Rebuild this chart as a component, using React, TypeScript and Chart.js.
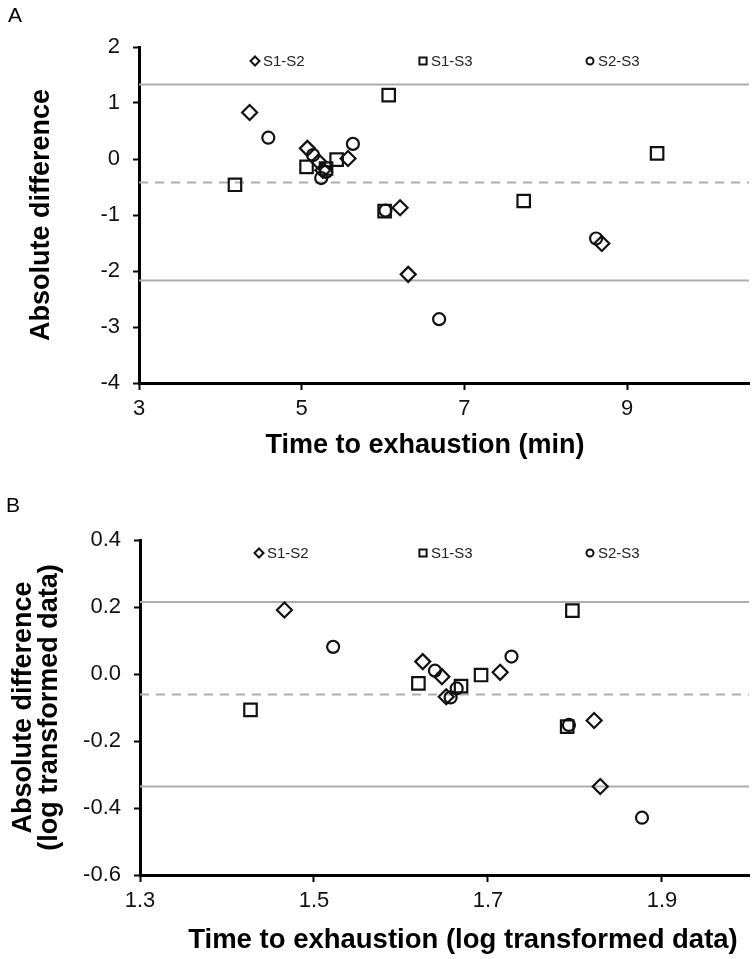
import React, { useEffect, useRef } from 'react';
import { Chart, registerables } from 'chart.js';
Chart.register(...registerables);

const FONT = '"Liberation Sans", Arial, Helvetica, sans-serif';
const seriesNames = ['S1-S2', 'S1-S3', 'S2-S3'];

// ---------- Panel A (minutes) ----------
const aX_S1S2 = [4.36, 5.07, 5.21, 5.26, 5.57, 6.21, 6.31, 8.69];
const aY_S1S2 = [0.83, 0.19, -0.05, -0.2, 0.01, -0.87, -2.06, -1.51];
const aX_S1S3 = [4.18, 5.06, 5.3, 5.43, 6.02, 6.07, 7.73, 9.37];
const aY_S1S3 = [-0.46, -0.14, -0.17, -0.01, -0.93, 1.14, -0.75, 0.1];
const aX_S2S3 = [4.59, 5.14, 5.24, 5.3, 5.63, 6.03, 6.69, 8.62];
const aY_S2S3 = [0.38, 0.07, -0.34, -0.23, 0.27, -0.92, -2.86, -1.42];
const aLimits = [1.33, -0.42, -2.17]; // upper LoA, mean, lower LoA
const aXTicks = [3, 5, 7, 9];
const aYTicks = [-4, -3, -2, -1, 0, 1, 2];

// ---------- Panel B (log transformed) ----------
const bX_S1S2 = [1.466, 1.625, 1.647, 1.652, 1.714, 1.822, 1.829];
const bY_S1S2 = [0.191, 0.037, -0.008, -0.068, 0.005, -0.139, -0.336];
const bX_S1S3 = [1.427, 1.62, 1.669, 1.692, 1.797, 1.791];
const bY_S1S3 = [-0.107, -0.028, -0.036, -0.003, 0.189, -0.157];
const bX_S2S3 = [1.522, 1.639, 1.664, 1.657, 1.727, 1.793, 1.877];
const bY_S2S3 = [0.081, 0.01, -0.043, -0.07, 0.052, -0.152, -0.429];
const bLimits = [0.215, -0.061, -0.336];
const bXTicks = [1.3, 1.5, 1.7, 1.9];
const bYTicks = [-0.6, -0.4, -0.2, 0.0, 0.2, 0.4];

type Panel = {
  top: number; height: number; letter: string; letterPos: [number, number];
  xMin: number; xMax: number; yMin: number; yMax: number;
  xTicks: number[]; yTicks: number[]; decimals: number;
  series: { x: number[]; y: number[] }[]; limits: number[];
  areaTop: number; yAxisW: number; xAxisH: number; areaRight: number;
  yTitle: string[]; yTitleX: number[]; xTitle: string; xTitleX: number; xTitleY: number; xTitleSize: number;
  legendX: number[]; legendY: number;
};

const panels: Panel[] = [
  {
    top: 0, height: 470, letter: 'A', letterPos: [15, 16],
    xMin: 3, xMax: 10.5, yMin: -4, yMax: 2, xTicks: aXTicks, yTicks: aYTicks, decimals: 0,
    series: [{ x: aX_S1S2, y: aY_S1S2 }, { x: aX_S1S3, y: aY_S1S3 }, { x: aX_S2S3, y: aY_S2S3 }],
    limits: aLimits,
    areaTop: 47, yAxisW: 139, xAxisH: 87, areaRight: 749,
    yTitle: ['Absolute difference'], yTitleX: [42],
    xTitle: 'Time to exhaustion (min)', xTitleX: 425, xTitleY: 446, xTitleSize: 27,
    legendX: [255, 423, 590], legendY: 61,
  },
  {
    top: 470, height: 489, letter: 'B', letterPos: [13, 36],
    xMin: 1.3, xMax: 2.0, yMin: -0.6, yMax: 0.4, xTicks: bXTicks, yTicks: bYTicks, decimals: 1,
    series: [{ x: bX_S1S2, y: bY_S1S2 }, { x: bX_S1S3, y: bY_S1S3 }, { x: bX_S2S3, y: bY_S2S3 }],
    limits: bLimits,
    areaTop: 70, yAxisW: 140, xAxisH: 84, areaRight: 749,
    yTitle: ['Absolute difference', '(log transformed data)'], yTitleX: [24, 50],
    xTitle: 'Time to exhaustion (log transformed data)', xTitleX: 463, xTitleY: 470, xTitleSize: 27.5,
    legendX: [259, 423, 590], legendY: 83,
  },
];

const pointStyles = ['rectRot', 'rect', 'circle'];
const pointRadii = [7.5, 8.8, 6];

function drawMarker(ctx: CanvasRenderingContext2D, kind: number, x: number, y: number) {
  ctx.beginPath();
  if (kind === 0) {
    const r = 4.5;
    ctx.moveTo(x, y - r); ctx.lineTo(x + r, y); ctx.lineTo(x, y + r); ctx.lineTo(x - r, y); ctx.closePath();
  } else if (kind === 1) {
    const h = 3.6;
    ctx.rect(x - h, y - h, 2 * h, 2 * h);
  } else {
    ctx.arc(x, y, 3.5, 0, Math.PI * 2);
  }
  ctx.stroke();
}

function makeAnnot(p: Panel) {
  return {
    id: 'annot' + p.letter,
    afterDraw(chart: any) {
      const ctx: CanvasRenderingContext2D = chart.ctx;
      const ca = chart.chartArea;
      ctx.save();
      ctx.fillStyle = '#000';
      ctx.textAlign = 'center';
      ctx.textBaseline = 'middle';
      // y title
      ctx.font = `bold 27px ${FONT}`;
      const cy = (ca.top + ca.bottom) / 2;
      p.yTitle.forEach((t, i) => {
        ctx.save();
        ctx.translate(p.yTitleX[i], cy);
        ctx.rotate(-Math.PI / 2);
        ctx.fillText(t, 0, 0);
        ctx.restore();
      });
      // x title
      ctx.font = `bold ${p.xTitleSize}px ${FONT}`;
      ctx.fillText(p.xTitle, p.xTitleX, p.xTitleY);
      // panel letter
      ctx.font = `21px ${FONT}`;
      ctx.fillText(p.letter, p.letterPos[0], p.letterPos[1]);
      // legend
      ctx.strokeStyle = '#111';
      ctx.lineWidth = 2;
      ctx.font = `15px ${FONT}`;
      ctx.textAlign = 'left';
      ctx.fillStyle = '#222';
      seriesNames.forEach((name, i) => {
        const lx = p.legendX[i];
        drawMarker(ctx, i, lx, p.legendY);
        ctx.fillText(name, lx + 8, p.legendY + 1);
      });
      ctx.restore();
    },
  };
}

// Forces the plot area to the reference's exact frame after Chart.js layout
function makeFrame(p: Panel) {
  return {
    id: 'frame' + p.letter,
    afterLayout(chart: any) {
      const ca = chart.chartArea;
      const xs = chart.scales.x;
      if (ca.right !== p.areaRight) {
        ca.right = p.areaRight;
        ca.width = ca.right - ca.left;
        xs.right = p.areaRight;
        xs.width = xs.right - xs.left;
        xs._length = xs.width;
        xs.configure();
      }
    },
  };
}

function makeChart(canvas: HTMLCanvasElement, p: Panel) {
  const pointSets = p.series.map((s, i) => ({
    type: 'scatter' as const,
    label: seriesNames[i],
    data: s.x.map((x, k) => ({ x, y: s.y[k] })),
    pointStyle: pointStyles[i],
    pointRadius: pointRadii[i],
    pointBorderWidth: 2.2,
    borderColor: '#111',
    backgroundColor: 'rgba(0,0,0,0)',
    showLine: false,
    order: 0,
  }));
  const lineSets = p.limits.map((v, i) => ({
    type: 'line' as const,
    label: 'limit' + i,
    data: [{ x: p.xMin, y: v }, { x: p.xMax, y: v }],
    borderColor: '#adadad',
    borderWidth: 2,
    borderDash: i === 1 ? [9, 7] : [],
    pointRadius: 0,
    fill: false,
    order: 10,
  }));
  const fmt = (v: number) => (p.decimals ? Number(v).toFixed(p.decimals) : String(Math.round(Number(v))));
  const tickFont = { family: FONT, size: 22 };
  return new Chart(canvas, {
    type: 'scatter',
    data: { datasets: [...lineSets, ...pointSets] as any },
    plugins: [makeFrame(p), makeAnnot(p)],
    options: {
      responsive: false,
      animation: false,
      devicePixelRatio: 1,
      layout: { padding: { top: p.areaTop, left: 0, right: 752 - p.areaRight, bottom: 0 } },
      plugins: { legend: { display: false }, tooltip: { enabled: false } },
      scales: {
        x: {
          type: 'linear',
          min: p.xMin,
          max: p.xMax,
          afterBuildTicks: (s: any) => { s.ticks = p.xTicks.map((v) => ({ value: v })); },
          afterFit: (s: any) => { s.height = p.xAxisH; s.paddingRight = 0; s.paddingLeft = 0; },
          grid: { drawOnChartArea: false, drawTicks: true, tickLength: 7, tickColor: '#000', tickWidth: 2 },
          border: { display: true, color: '#000', width: 3 },
          ticks: { font: tickFont, color: '#111', padding: 6, maxRotation: 0, autoSkip: false, callback: (v: any) => fmt(v) },
        },
        y: {
          type: 'linear',
          min: p.yMin,
          max: p.yMax,
          afterBuildTicks: (s: any) => { s.ticks = p.yTicks.map((v) => ({ value: v })); },
          afterFit: (s: any) => { s.width = p.yAxisW; s.paddingTop = 0; s.paddingBottom = 0; },
          grid: { drawOnChartArea: false, drawTicks: true, tickLength: 6, tickColor: '#000', tickWidth: 2 },
          border: { display: true, color: '#000', width: 3 },
          ticks: { font: tickFont, color: '#111', padding: 13, autoSkip: false, callback: (v: any) => fmt(v) },
        },
      },
    } as any,
  });
}

function PanelChart({ p }: { p: Panel }) {
  const ref = useRef<HTMLCanvasElement | null>(null);
  useEffect(() => {
    if (!ref.current) return;
    const chart = makeChart(ref.current, p);
    return () => chart.destroy();
  }, [p]);
  return (
    <canvas
      ref={ref}
      width={752}
      height={p.height}
      style={{ position: 'absolute', left: 0, top: p.top, width: 752, height: p.height, display: 'block' }}
    />
  );
}

export default function App() {
  return (
    <div style={{ position: 'fixed', left: 0, top: 0, width: 752, height: 959, background: '#fff', overflow: 'hidden' }}>
      {panels.map((p) => (
        <PanelChart key={p.letter} p={p} />
      ))}
    </div>
  );
}
